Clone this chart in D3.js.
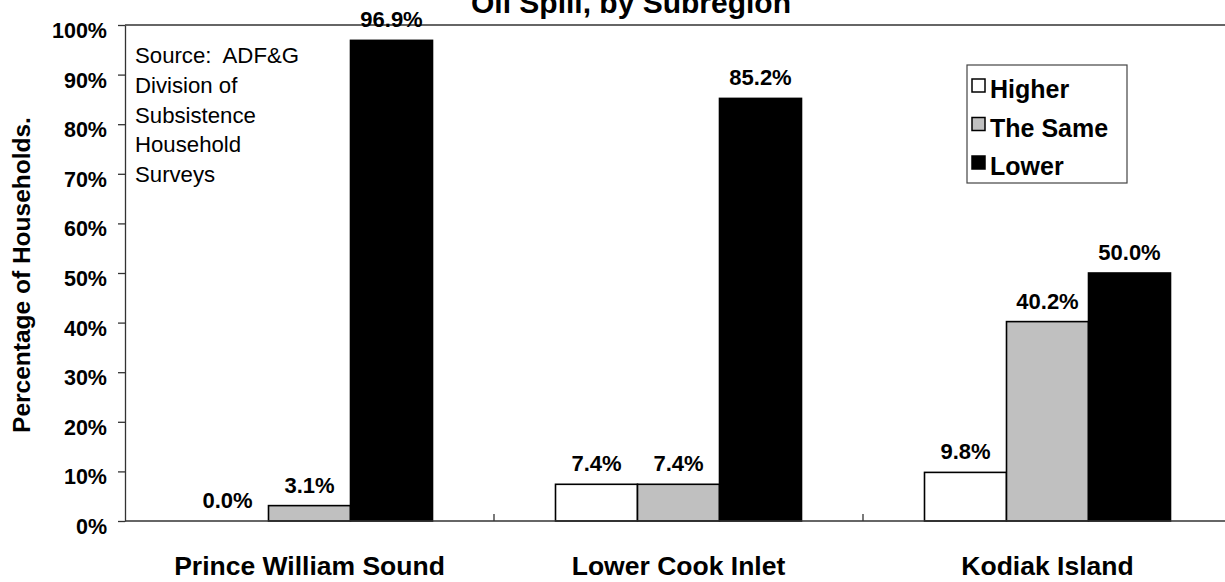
<!DOCTYPE html>
<html>
<head>
<meta charset="utf-8">
<script src="https://cdn.jsdelivr.net/npm/d3@7"></script>
<style>
  html, body { margin: 0; padding: 0; background: #fff; }
  svg { display: block; font-family: "Liberation Sans", Arial, sans-serif; }
</style>
</head>
<body>
<svg id="chart" width="1225" height="582"></svg>
<script>
// ---- data ----
const categories = ["Prince William Sound", "Lower Cook Inlet", "Kodiak Island"];
const seriesNames = ["Higher", "The Same", "Lower"];
const higher = [0.0, 7.4, 9.8];
const theSame = [3.1, 7.4, 40.2];
const lower = [96.9, 85.2, 50.0];
const yTicks = [0, 10, 20, 30, 40, 50, 60, 70, 80, 90, 100];
const titleText = "Oil Spill, by Subregion";
const yLabel = "Percentage of Households.";
const sourceLines = ["Source:  ADF&G", "Division of", "Subsistence", "Household", "Surveys"];

(function () {
const seriesValues = [higher, theSame, lower];
const seriesFill = ["#ffffff", "#c0c0c0", "#000000"];

const svg = d3.select("#chart");
const pLeft = 125, pRight = 1232, pTop = 25, pBottom = 521;
const axisColor = "#333";

const x = d3.scaleBand().domain(categories).range([pLeft, pRight]).paddingInner(0).paddingOuter(0);
const bw = x.bandwidth();
const xs = d3.scaleBand().domain(seriesNames).range([bw / 6, bw * 5 / 6]).padding(0);
const y = d3.scaleLinear().domain([0, 100]).range([pBottom, pTop]);

// title (partially cut off at top, as in the reference)
svg.append("text")
  .attr("x", 631).attr("y", 13)
  .attr("text-anchor", "middle")
  .attr("font-size", 30).attr("font-weight", "bold")
  .text(titleText);

// top border line of plot area
svg.append("line")
  .attr("x1", pLeft).attr("x2", pRight)
  .attr("y1", y(100)).attr("y2", y(100))
  .attr("stroke", axisColor).attr("stroke-width", 1.3);

// bars
const rows = [];
categories.forEach((c, i) => {
  seriesNames.forEach((s, j) => rows.push({ c, s, j, v: seriesValues[j][i] }));
});

svg.append("g").selectAll("rect")
  .data(rows.filter(d => d.v > 0))
  .join("rect")
  .attr("x", d => x(d.c) + xs(d.s))
  .attr("y", d => y(d.v))
  .attr("width", xs.bandwidth())
  .attr("height", d => y(0) - y(d.v))
  .attr("fill", d => seriesFill[d.j])
  .attr("stroke", "#000")
  .attr("stroke-width", 1.6);

// value labels
svg.append("g").selectAll("text")
  .data(rows)
  .join("text")
  .attr("x", d => x(d.c) + xs(d.s) + xs.bandwidth() / 2)
  .attr("y", d => y(d.v) - 13)
  .attr("text-anchor", "middle")
  .attr("font-size", 22).attr("font-weight", "bold")
  .text(d => d.v.toFixed(1) + "%");

// y axis
const yAxis = d3.axisLeft(y).tickValues(yTicks).tickSize(7).tickSizeOuter(0)
  .tickFormat(d => d + "%");
const gy = svg.append("g").attr("transform", `translate(${pLeft},0)`).call(yAxis);
gy.select(".domain").attr("stroke", axisColor).attr("stroke-width", 1.3);
gy.selectAll(".tick line").attr("stroke", axisColor).attr("stroke-width", 1.3);
gy.selectAll(".tick text")
  .attr("x", -18).attr("dy", null).attr("y", 12.5)
  .attr("font-size", 21.5).attr("font-weight", "bold")
  .attr("font-family", "'Liberation Sans', Arial, sans-serif")
  .attr("fill", "#000");

// x axis baseline
svg.append("line")
  .attr("x1", pLeft).attr("x2", pRight)
  .attr("y1", y(0)).attr("y2", y(0))
  .attr("stroke", axisColor).attr("stroke-width", 1.5);

// category boundary ticks
svg.append("g").selectAll("line")
  .data(categories.slice(1))
  .join("line")
  .attr("x1", d => x(d)).attr("x2", d => x(d))
  .attr("y1", y(0)).attr("y2", y(0) - 7)
  .attr("stroke", axisColor).attr("stroke-width", 1.3);

// category labels
svg.append("g").selectAll("text")
  .data(categories)
  .join("text")
  .attr("x", d => x(d) + bw / 2)
  .attr("y", 575)
  .attr("text-anchor", "middle")
  .attr("font-size", 26.5).attr("font-weight", "bold")
  .text(d => d);

// y label
svg.append("text")
  .attr("transform", `translate(30,275) rotate(-90)`)
  .attr("text-anchor", "middle")
  .attr("font-size", 24.5).attr("font-weight", "bold")
  .text(yLabel);

// source note
svg.append("g").selectAll("text")
  .data(sourceLines)
  .join("text")
  .attr("x", 135)
  .attr("y", (d, i) => 63 + i * 29.8)
  .attr("font-size", 22.2)
  .style("white-space", "pre")
  .attr("xml:space", "preserve")
  .text(d => d);

// legend
const lg = svg.append("g");
lg.append("rect")
  .attr("x", 967).attr("y", 65).attr("width", 160).attr("height", 118)
  .attr("fill", "#fff").attr("stroke", "#444").attr("stroke-width", 1.2);
const li = lg.selectAll("g.item").data(seriesNames).join("g").attr("class", "item")
  .attr("transform", (d, i) => `translate(972, ${79 + i * 38.5})`);
li.append("rect")
  .attr("width", 13).attr("height", 13)
  .attr("fill", (d, i) => seriesFill[i])
  .attr("stroke", "#000").attr("stroke-width", 1.5);
li.append("text")
  .attr("x", 18).attr("y", 19)
  .attr("font-size", 25).attr("font-weight", "bold")
  .text(d => d);
})();
</script>
</body>
</html>
